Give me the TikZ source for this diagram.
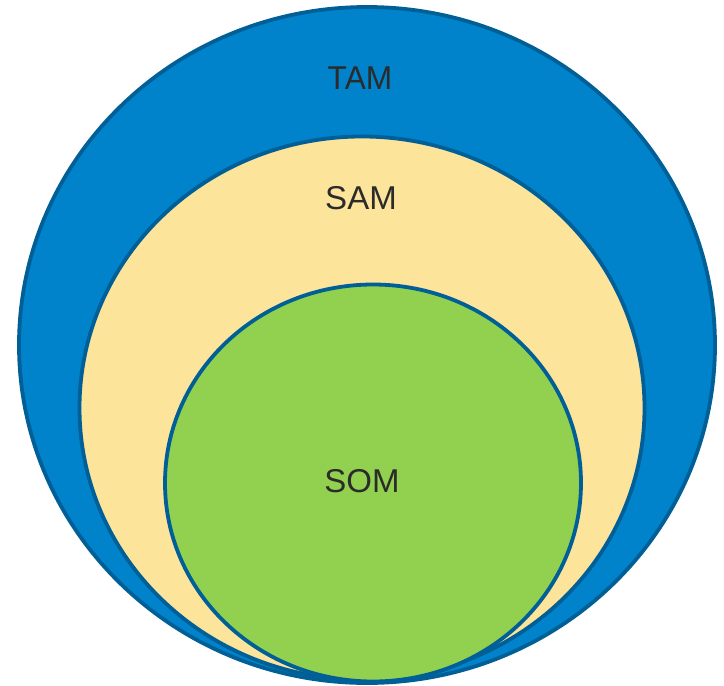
\documentclass[tikz,border=0pt]{standalone}
\usepackage{fontspec}
\setmainfont{Liberation Sans}
\usepackage{tikz}
\usetikzlibrary{shapes.geometric}
\definecolor{tamblue}{HTML}{0083CA}
\definecolor{samyellow}{HTML}{FDE49B}
\definecolor{somgreen}{HTML}{92D050}
\definecolor{rimblue}{HTML}{005F96}
\definecolor{labelgray}{HTML}{2B2B2B}
\newcommand{\rim}{3.8pt}
\tikzset{market/.style={ellipse, draw=rimblue, line width=\rim, inner sep=0pt},
  marketlabel/.style={text=labelgray, font=\fontsize{33}{36}\selectfont}}

\begin{document}
\begin{tikzpicture}[x=1pt,y=-1pt]
\useasboundingbox (0,0) rectangle (724,686);
\node[market, fill=tamblue, minimum width=696pt, minimum height=676pt] (tam) at (367,345) {};
\node[market, fill=samyellow, minimum width=565pt, minimum height=543pt] (sam) at (362,408) {};
\node[market, fill=somgreen, minimum width=416pt, minimum height=397pt] (som) at (373,483) {};
%labels
\node[marketlabel, xscale=0.96] (tamtext) at (360,78) {TAM};
\node[marketlabel] (samtext) at (361,198) {SAM};
\node[marketlabel] (somtext) at (362,481) {SOM};
\end{tikzpicture}
\end{document}
